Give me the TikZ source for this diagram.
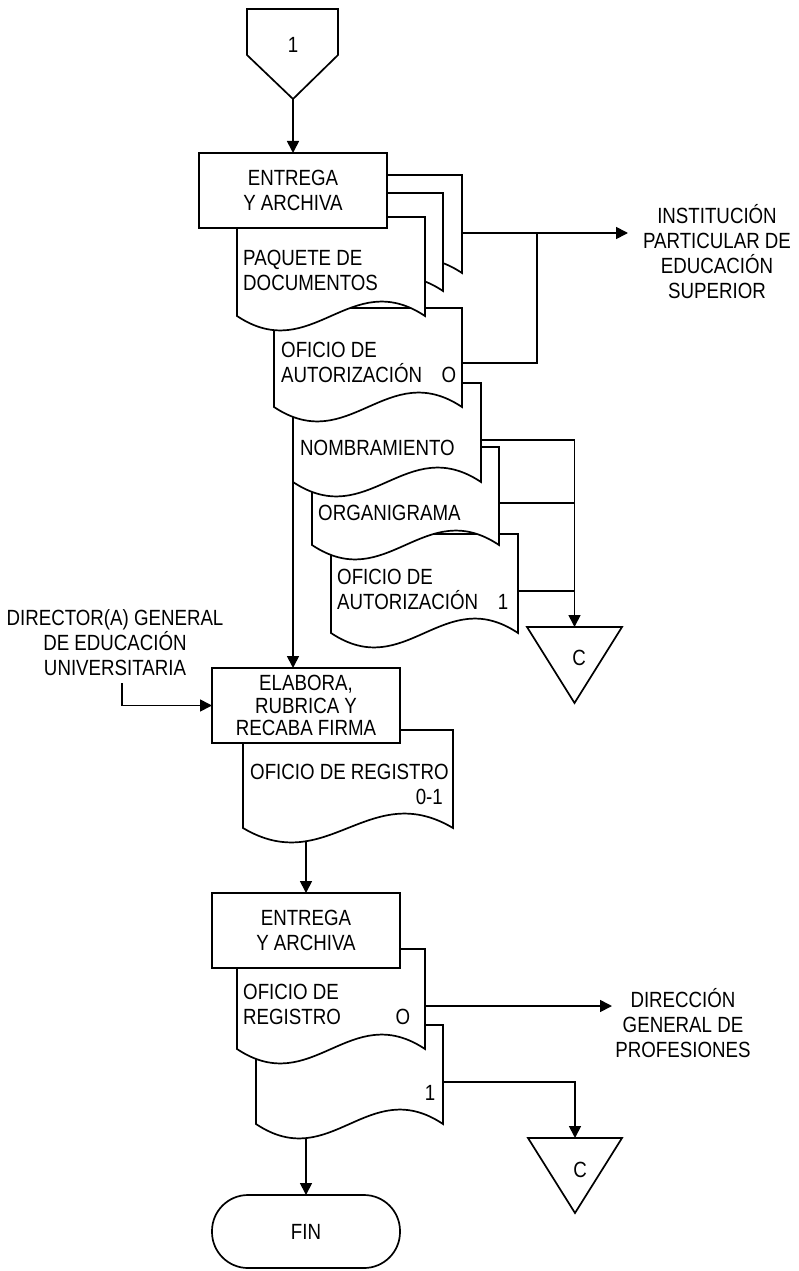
\documentclass[tikz,border=0pt]{standalone}
\usepackage{fontspec}
\newfontfamily\dinfont{Liberation Sans}[FakeStretch=0.85]
\usetikzlibrary{arrows.meta}
% document shape: x0, top, width, bottom-end y, wave control offset
\newcommand\docshape[5]{%
  \pgfmathsetmacro\dsR{#1+#3}%
  \pgfmathsetmacro\dsA{#1+0.6*#3}%
  \pgfmathsetmacro\dsB{#1+0.4*#3}%
  \pgfmathsetmacro\dsU{#4-#5}%
  \pgfmathsetmacro\dsD{#4+#5}%
  \draw[shp] (#1,#2) -- (\dsR,#2) -- (\dsR,#4) .. controls (\dsA,\dsU) and (\dsB,\dsD) .. (#1,#4) -- cycle;%
}
\begin{document}
\begin{tikzpicture}[x=1pt,y=-1pt,
  every node/.style={font=\dinfont\fontsize{22}{25}\selectfont, inner sep=0pt},
  ln/.style={line width=1.7pt, line join=miter},
  shp/.style={ln, draw=black, fill=white},
  arr/.style={ln, -{Triangle[length=12pt,width=12pt]}},
  box/.style={shp, minimum width=188pt, minimum height=75pt, align=center},
  lbl/.style={align=left, anchor=west},
]
\useasboundingbox (0,0) rectangle (799,1271);

% ---------- named coordinates ----------
\coordinate (pent) at (293,99);
\coordinate (c3out) at (462,233);
\coordinate (instin) at (628,233);
\coordinate (jn1) at (537,233);
\coordinate (ooout) at (462,363);
\coordinate (nmout) at (481,440);
\coordinate (tria) at (574.5,627);
\coordinate (ogout) at (500,503);
\coordinate (ogj) at (574.5,503);
\coordinate (o1out) at (519,591);
\coordinate (o1j) at (574.5,591);
\coordinate (nmbl) at (293,482);
\coordinate (b2in) at (293,668);
\coordinate (dirout) at (122,683);
\coordinate (regin) at (306,800);
\coordinate (roout) at (425,1006);
\coordinate (dgpin) at (612,1006);
\coordinate (r1out) at (443,1082);
\coordinate (trib) at (575,1138);
\coordinate (r1in) at (306,1100);

% ---------- process boxes (positions) ----------
\path (293,190.5) coordinate (b1c);
\path (306,705.5) coordinate (b2c);
\path (306,930.5) coordinate (b3c);

% ---------- connectors ----------
\draw[arr] (pent) -- (293,153);
\draw[arr] (c3out) -- (instin);
\draw[ln] (ooout) -| (jn1);
\draw[arr] (nmout) -| (tria);
\draw[ln] (ogout) -- (ogj);
\draw[ln] (o1out) -- (o1j);
\draw[arr] (nmbl) -- (b2in);
\draw[arr] (dirout) |- (212,705.5);
\draw[arr] (regin) -- (306,893);
\draw[arr] (roout) -- (dgpin);
\draw[arr] (r1out) -| (trib);
\draw[arr] (r1in) -- (306,1195);

% ---------- off-page connector ----------
\draw[shp] (247,9) -- (338,9) -- (338,55) -- (pent) -- (247,55) -- cycle;
\node (n1) at (293,45) {1};

% ---------- first document stack ----------
\docshape{331}{534}{187}{633}{50}
\node[lbl] (o1t) at (337,589.5) {OFICIO DE\\AUTORIZACIÓN};
\node (o1n) at (503,602) {1};
\docshape{312}{447}{187}{545}{50}
\node[lbl] (ogt) at (318,513) {ORGANIGRAMA};
\docshape{293}{383}{188}{482}{50}
\node[lbl] (nmt) at (300,448) {NOMBRAMIENTO};
\docshape{274}{308}{188}{407}{50}
\node[lbl] (oot) at (281,362.5) {OFICIO DE\\AUTORIZACIÓN};
\node (oon) at (449,375) {O};
\docshape{274}{175}{188}{273}{50}
\docshape{255}{193}{188}{291}{50}
\docshape{237}{217}{188}{316}{50}
\node[lbl] (pqt) at (243,270) {PAQUETE DE\\DOCUMENTOS};
\node[box] (b1) at (b1c) {ENTREGA\\Y ARCHIVA};

\node[align=center] (inst) at (717,252) {INSTITUCIÓN\\PARTICULAR DE\\EDUCACIÓN\\SUPERIOR};

% ---------- triangle C (top) ----------
\draw[shp] (527,627) -- (622,627) -- (574.5,703) -- cycle;
\node (tc1) at (579,658) {C};

% ---------- elabora ----------
\node[align=center] (dir) at (115,643) {DIRECTOR(A) GENERAL\\DE EDUCACIÓN\\UNIVERSITARIA};
\docshape{243}{730}{210}{828}{50}
\node[lbl] (rgt) at (250,772) {OFICIO DE REGISTRO};
\node[anchor=east] (rgn) at (443,797) {0-1};
\node[box, font=\dinfont\fontsize{22}{22.5}\selectfont] (b2) at (b2c) {ELABORA,\\RUBRICA Y\\RECABA FIRMA};

% ---------- second entrega ----------
\docshape{256}{1025}{187}{1124}{50}
\node (r1n) at (430,1093) {1};
\docshape{237}{949}{188}{1049}{50}
\node[lbl] (rot) at (243,1004.5) {OFICIO DE\\REGISTRO};
\node (ron) at (403,1017) {O};
\node[box] (b3) at (b3c) {ENTREGA\\Y ARCHIVA};

\node[align=center] (dgp) at (683,1023) {DIRECCIÓN\\GENERAL DE\\PROFESIONES};

\draw[shp] (528,1138) -- (622,1138) -- (575,1213) -- cycle;
\node (tc2) at (580,1170) {C};

\node[shp, rounded corners=36pt, minimum width=188pt, minimum height=73pt] (fin) at (306,1231.5) {FIN};
\end{tikzpicture}
\end{document}
